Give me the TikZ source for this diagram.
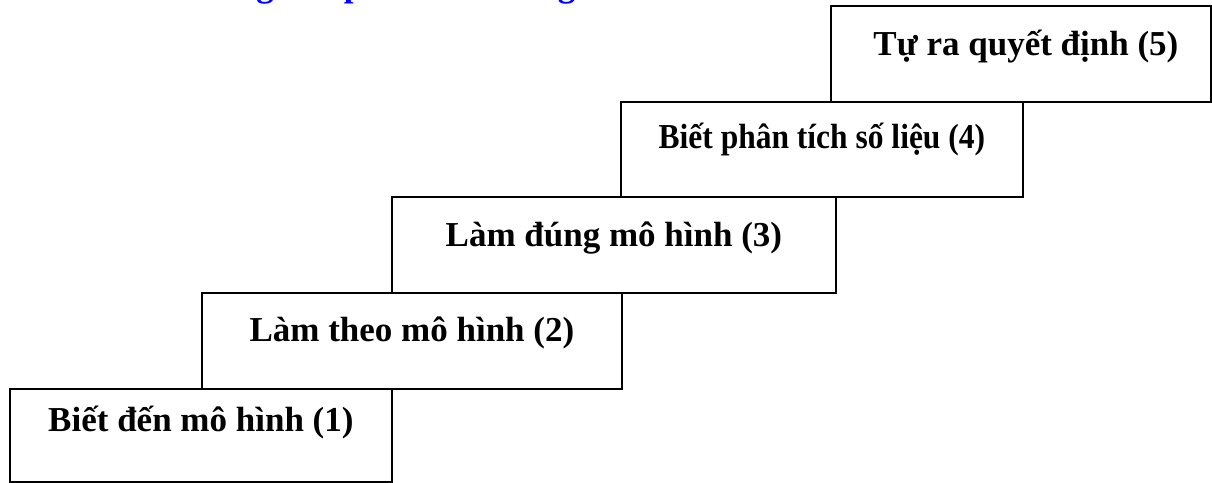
\documentclass[tikz,border=0pt]{standalone}
\usepackage{fontspec}
\setmainfont{Liberation Serif}
\begin{document}
\begin{tikzpicture}[x=1pt,y=-1pt,
  stepbox/.style={draw=black, line width=1.8pt, fill=white, rectangle,
    inner sep=0pt, anchor=north west},
  steptext/.style={anchor=base, inner sep=0pt,
    font=\fontsize{35}{40}\selectfont\bfseries},
  headtext/.style={anchor=base west, inner sep=0pt, text=blue,
    font=\fontsize{35}{40}\selectfont\bfseries}]
  \useasboundingbox (0,0) rectangle (1212,482);
  \clip (0,0) rectangle (1212,482);

  % heading line, set above the top edge so only its descenders show
  \node[headtext] (head) at (171,-4) {Những nấc phát triển năng};

  % the five steps, from bottom left to top right
  \node[stepbox, minimum width=382pt, minimum height=93pt] (s1) at (9,388) {};
  \node[stepbox, minimum width=420pt, minimum height=96pt] (s2) at (201,292) {};
  \node[stepbox, minimum width=444pt, minimum height=96pt] (s3) at (391,196) {};
  \node[stepbox, minimum width=402pt, minimum height=95pt] (s4) at (620,101) {};
  \node[stepbox, minimum width=380pt, minimum height=96pt] (s5) at (830,5) {};

  \node[steptext] (t1) at ([yshift=-43pt]s1.north) {Biết đến mô hình (1)};
  \node[steptext] (t2) at ([yshift=-49pt]s2.north) {Làm theo mô hình (2)};
  \node[steptext] (t3) at ([yshift=-50pt]s3.north) {Làm đúng mô hình (3)};
  \node[steptext] (t4) at ([yshift=-47pt]s4.north) {\scalebox{0.9}[1]{Biết phân tích số liệu (4)}};
  \node[steptext] (t5) at ([yshift=-50pt, xshift=5pt]s5.north) {Tự ra quyết định (5)};
\end{tikzpicture}
\end{document}
